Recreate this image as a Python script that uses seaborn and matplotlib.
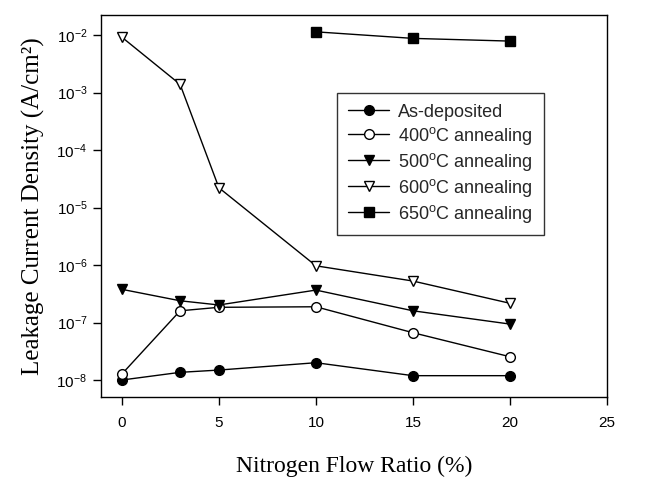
import matplotlib
matplotlib.use("Agg")
import matplotlib.pyplot as plt
import seaborn as sns
import pandas as pd
from matplotlib.ticker import LogFormatterSciNotation, NullLocator

sns.set_theme(style="white")
plt.rcParams['font.family'] = ['Liberation Sans', 'DejaVu Sans']
plt.rcParams['mathtext.fontset'] = 'custom'
plt.rcParams['mathtext.rm'] = 'Liberation Sans'
plt.rcParams['mathtext.it'] = 'Liberation Sans:italic'
plt.rcParams['mathtext.bf'] = 'Liberation Sans:bold'

# Data
x_all = [0, 3, 5, 10, 15, 20]
as_deposited = [1.0e-8, 1.36e-8, 1.49e-8, 2.0e-8, 1.19e-8, 1.19e-8]
ann_400 = [1.27e-8, 1.60e-7, 1.84e-7, 1.88e-7, 6.65e-8, 2.54e-8]
ann_500 = [3.78e-7, 2.39e-7, 2.02e-7, 3.67e-7, 1.60e-7, 9.4e-8]
ann_600 = [9.2e-3, 1.39e-3, 2.21e-5, 9.7e-7, 5.27e-7, 2.16e-7]
x_650 = [10, 15, 20]
ann_650 = [1.14e-2, 8.77e-3, 7.87e-3]
x_ticks = [0, 5, 10, 15, 20, 25]
y_ticks = [1e-8, 1e-7, 1e-6, 1e-5, 1e-4, 1e-3, 1e-2]

series = [
    ("As-deposited", x_all, as_deposited, "o", "black"),
    ("400$^{\\mathdefault{o}}$C annealing", x_all, ann_400, "o", "white"),
    ("500$^{\\mathdefault{o}}$C annealing", x_all, ann_500, "v", "black"),
    ("600$^{\\mathdefault{o}}$C annealing", x_all, ann_600, "v", "white"),
    ("650$^{\\mathdefault{o}}$C annealing", x_650, ann_650, "s", "black"),
]

fig = plt.figure(figsize=(6.64, 4.91), dpi=100)
ax = fig.add_axes([0.1514, 0.1914, 0.7628, 0.779])

for label, xs, ys, mk, fc in series:
    df = pd.DataFrame({"x": xs, "y": ys})
    sns.lineplot(data=df, x="x", y="y", ax=ax, color="black", linewidth=1.0,
                 marker=mk, markersize=7, markerfacecolor=fc,
                 markeredgecolor="black", markeredgewidth=1.0, label=label)

ax.set_yscale("log")
ax.set_xlim(-1.1, 25)
ax.set_ylim(5.06e-9, 2.28e-2)
ax.set_xticks(x_ticks)
ax.set_yticks(y_ticks)
ax.yaxis.set_minor_locator(NullLocator())
ax.yaxis.set_major_formatter(LogFormatterSciNotation())

for s in ax.spines.values():
    s.set_color("black")
    s.set_linewidth(1.0)

ax.tick_params(axis="both", which="major", direction="out", length=6, width=1,
               color="black", labelsize=11, labelcolor="black",
               bottom=True, left=True, top=False, right=False)
ax.tick_params(axis="x", pad=8)

ax.set_xlabel("Nitrogen Flow Ratio (%)", family=["Liberation Serif"], fontsize=17,
              labelpad=18, color="black")
ax.set_ylabel("Leakage Current Density (A/cm²)", family=["Liberation Serif"],
              fontsize=18, labelpad=8, color="black")

leg = ax.legend(loc="upper left", bbox_to_anchor=(0.467, 0.795), frameon=True,
                fancybox=False, edgecolor="black", fontsize=13, handlelength=2.3,
                borderpad=0.6, labelspacing=0.22, handletextpad=0.5,
                borderaxespad=0)
leg.get_frame().set_linewidth(1.0)

fig.savefig("out.png", dpi=100)
